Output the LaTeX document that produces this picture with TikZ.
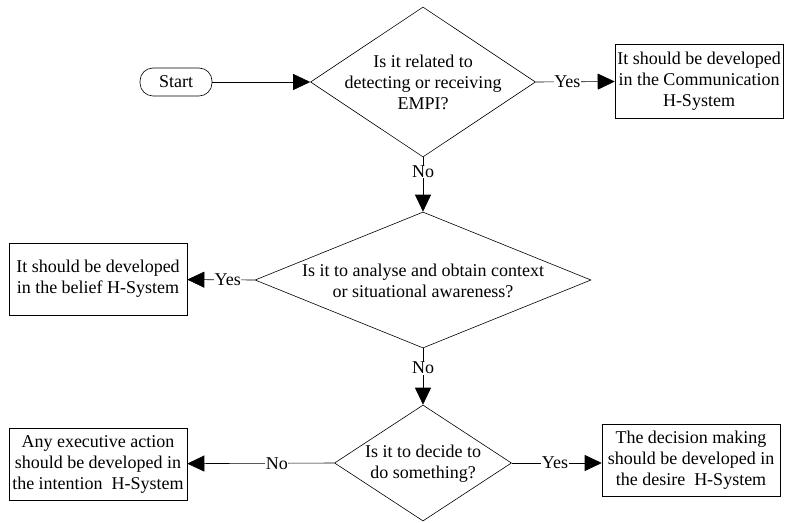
\documentclass[tikz,border=0pt]{standalone}
\usepackage{fontspec}
\setmainfont{Liberation Serif}
\usetikzlibrary{shapes.geometric,arrows.meta}
\tikzset{dec/.style={diamond,draw,inner sep=0pt},
    box/.style={rectangle,draw,align=center,minimum width=178pt,minimum height=72pt,inner sep=2pt},
    txt/.style={align=center,inner sep=0pt},
    lbl/.style={fill=white,inner sep=0.5pt}}

\begin{document}
\begin{tikzpicture}[x=1pt,y=-1pt,>={Triangle[length=17pt,width=16pt]},line width=0.6pt,
    font=\fontsize{18}{21}\selectfont]
        \useasboundingbox (0,0) rectangle (787,522);

        \node[draw,rounded corners=13pt,minimum width=72pt,minimum height=28pt] (start) at (176,82) {Start};

        \node[dec,minimum width=225pt,minimum height=150pt] (q1) at (423,82) {};
        \node[txt] (q1t) at (q1) {Is it related to\\detecting or receiving\\EMPI?};
        \node[dec,minimum width=336pt,minimum height=136pt] (q2) at (423,280) {};
        \node[txt] (q2t) at (423,281) {Is it to analyse and obtain context\\or situational awareness?};
        \node[dec,minimum width=177pt,minimum height=116pt] (q3) at (423,463) {};
        \node[txt] (q3t) at (423,464) {Is it to decide to\\do something?};

        \node[box,minimum width=168pt,minimum height=74pt] (comm) at (699,81) {It should be developed\\in the Communication\\H-System};
        \node[box] (belief) at (98,279) {It should be developed\\in the belief H-System};
        \node[box] (intent) at (98,464) {Any executive action\\should be developed in\\the intention\ \ H-System};
        \node[box] (desire) at (691,460) {The decision making\\should be developed in\\the desire\ \ H-System};

        \draw [->] (start) to (q1.west);
        \draw [->] (q1.east) to []node[lbl,pos=0.4]{Yes} (comm);
        \draw [->] (q1.south) to []node[lbl,pos=0.27]{No} (q2.north);
        \draw [->] (q2.west) to []node[lbl,pos=0.4]{Yes} (belief);
        \draw [->] (q2.south) to []node[lbl,pos=0.35]{No} (q3.north);
        \draw [->] (q3.west) to []node[lbl,pos=0.39]{No} (intent);
        \draw [->] (q3.east) to []node[lbl,pos=0.48]{Yes} (desire.west |- q3.east);
    \end{tikzpicture}
\end{document}
